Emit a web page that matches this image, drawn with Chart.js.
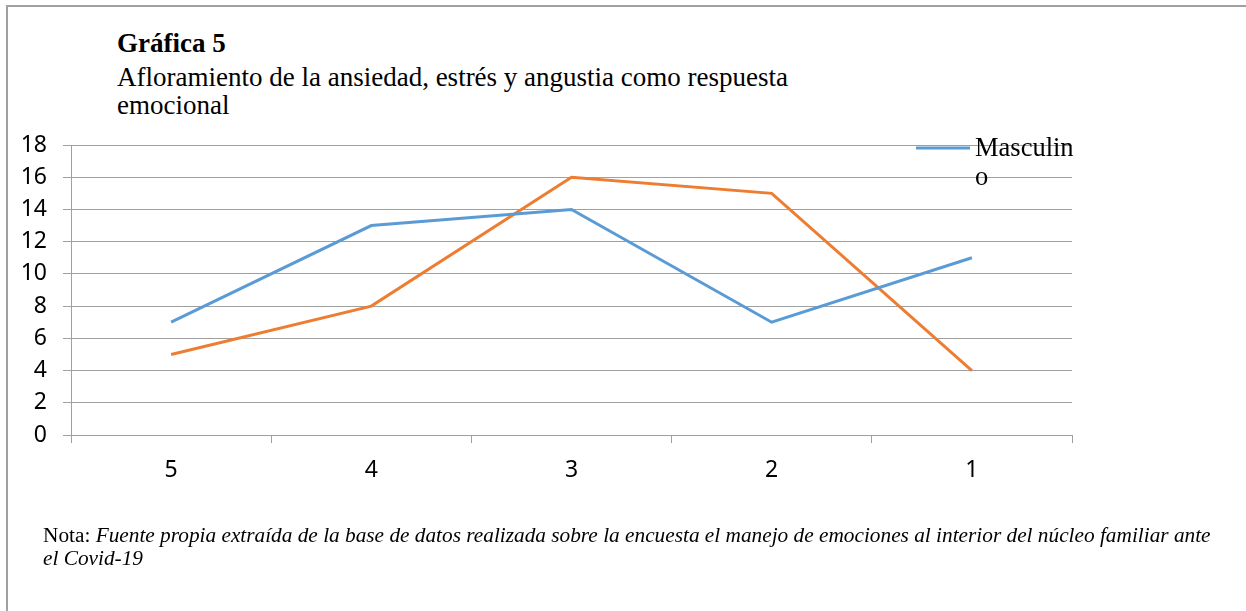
<!DOCTYPE html>
<html>
<head>
<meta charset="utf-8">
<script src="https://cdn.jsdelivr.net/npm/chart.js"></script>
<style>
  html, body { margin: 0; background: #fff; overflow: hidden; }
  #page { position: relative; width: 1246px; height: 611px; overflow: hidden; }
  #frameLeft { position: absolute; left: 6px; top: 5px; width: 2px; height: 606px; background: #a0a0a0; }
  #frameTop { position: absolute; left: 6px; top: 5px; width: 1240px; height: 2px; background: #a0a0a0; }
  #title { position: absolute; left: 117px; top: 30px; font-family: "Liberation Serif", serif; font-size: 27px; line-height: 27px; color: #000; }
  #title b { display: block; margin-bottom: 6px; }
  #title span { display: block; line-height: 28px; }
  #nota { position: absolute; left: 43px; top: 524px; width: 1185px; font-family: "Liberation Serif", serif; font-size: 21.3px; line-height: 23px; color: #000; }
  canvas { position: absolute; left: 0; top: 0; }
</style>
</head>
<body>
<div id="page">
  <div id="frameLeft"></div>
  <div id="frameTop"></div>
  <div id="title"><b>Gráfica 5</b><span>Afloramiento de la ansiedad, estrés y angustia como respuesta<br>emocional</span></div>
  <canvas id="chart" width="1246" height="611"></canvas>
  <div id="nota">Nota: <i>Fuente propia extraída de la base de datos realizada sobre la encuesta el manejo de emociones al interior del núcleo familiar ante el Covid-19</i></div>
</div>
<script>
const categories = ['5', '4', '3', '2', '1']
const masculino = [7, 13, 14, 7, 11]
const femenino = [5, 8, 16, 15, 4]
const yTicks = [0, 2, 4, 6, 8, 10, 12, 14, 16, 18]

// only the first series shows in the legend, with the label wrapped
const legendLine = {
  id: 'legendLine',
  afterDraw(chart){
    let ctx = chart.ctx
    let ds = chart.data.datasets[0]
    ctx.save()
    ctx.strokeStyle = ds.borderColor
    ctx.lineWidth = 3
    ctx.beginPath()
    ctx.moveTo(916, 148)
    ctx.lineTo(970, 148)
    ctx.stroke()
    ctx.fillStyle = '#000'
    ctx.font = '26.5px "Liberation Serif", serif'
    ctx.textBaseline = 'alphabetic'
    ctx.fillText(ds.label.slice(0, -1), 975, 156)
    ctx.fillText(ds.label.slice(-1), 975, 185)
    ctx.restore()
  }
}

const data = {
  labels: categories,
  datasets: [{
    label: 'Masculino',
    data: masculino,
    borderColor: '#5B9BD5',
    backgroundColor: '#5B9BD5',
    borderWidth: 3,
    pointRadius: 0,
    tension: 0
  }, {
    label: 'Femenino',
    data: femenino,
    borderColor: '#ED7D31',
    backgroundColor: '#ED7D31',
    borderWidth: 3,
    pointRadius: 0,
    tension: 0
  }]
}

const config = {
  type: 'line',
  data: data,
  plugins: [legendLine],
  options: {
    responsive: false,
    animation: false,
    layout: { padding: { left: 0, top: 145, right: 174, bottom: 0 } },
    plugins: { legend: { display: false }, tooltip: { enabled: false } },
    scales: {
      x: {
        offset: true,
        afterFit(scale){ scale.height = 176 },
        grid: { offset: true, drawOnChartArea: false, color: '#a0a0a0', tickLength: 8, tickColor: '#a0a0a0' },
        border: { color: '#a0a0a0' },
        ticks: { color: '#000', font: { family: 'Noto Sans', size: 23 }, padding: 14 }
      },
      y: {
        min: 0,
        max: 18,
        afterFit(scale){ scale.width = 71 },
        afterBuildTicks(scale){ scale.ticks = yTicks.map(v => ({ value: v })) },
        grid: { color: '#a0a0a0', tickLength: 8, tickColor: '#a0a0a0' },
        border: { color: '#a0a0a0' },
        ticks: { color: '#000', font: { family: 'Noto Sans', size: 23 }, padding: 16 }
      }
    }
  }
}

let ctx = document.getElementById('chart').getContext('2d')
new Chart(ctx, config)
</script>
</body>
</html>
